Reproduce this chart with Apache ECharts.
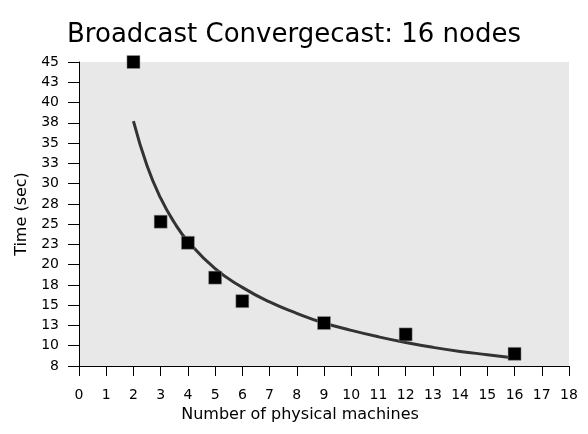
<!DOCTYPE html>
<html lang="en">
<head>
    <meta charset="UTF-8">
    <title>Broadcast Convergecast</title>
</head>
<body style="margin:0">

    <div id="echarts" style="width: 588px; height: 434px"></div>
    <script src="https://cdn.jsdelivr.net/npm/echarts@6/dist/echarts.min.js"></script>
    <script>
        // measured points
        const machines = [2, 3, 4, 5, 6, 9, 12, 16]
        const times = [45, 25.3, 22.7, 18.4, 15.5, 12.8, 11.4, 9.0]

        // fitted curve
        const fitX = [2, 2.5, 3, 3.5, 4, 5, 6, 7, 8, 9, 10, 11, 12, 13, 14, 15, 16]
        const fitY = [37.7, 32.2, 28.2, 25.2, 22.9, 19.5, 17.2, 15.4, 14.0, 12.8, 11.9, 11.1, 10.4, 9.8, 9.3, 8.9, 8.5]

        const font = 'DejaVu Sans'

        const option = {
            title: {
                text: 'Broadcast Convergecast: 16 nodes',
                left: 'center',
                top: 17,
                textStyle: { fontFamily: font, fontSize: 26, fontWeight: 'normal', color: '#000' }
            },
            grid: {
                left: 79, right: 19, top: 62, bottom: 68,
                show: true, backgroundColor: '#e8e8e8', borderWidth: 0
            },
            xAxis: {
                type: 'value',
                min: 0, max: 18, interval: 1,
                name: 'Number of physical machines',
                nameLocation: 'middle',
                nameGap: 41,
                // the title sits a bit left of the axis centre in the original
                nameTextStyle: { fontFamily: font, fontSize: 16, color: '#000', padding: [0, 48, 0, 0] },
                axisLine: { lineStyle: { color: '#000', width: 1 } },
                axisTick: { length: 10, lineStyle: { color: '#000' } },
                axisLabel: { fontFamily: font, fontSize: 14, color: '#000', margin: 22 },
                splitLine: { show: false }
            },
            yAxis: {
                type: 'value',
                min: 7.5, max: 45, interval: 2.5,
                name: 'Time (sec)',
                nameLocation: 'middle',
                nameGap: 42,
                nameTextStyle: { fontFamily: font, fontSize: 16, color: '#000' },
                axisLine: { show: true, lineStyle: { color: '#000', width: 1 } },
                axisTick: { show: true, length: 11, lineStyle: { color: '#000' } },
                axisLabel: {
                    fontFamily: font, fontSize: 14, color: '#000', margin: 20,
                    formatter: v => Math.round(v)
                },
                splitLine: { show: false }
            },
            series: [
                {
                    type: 'line',
                    data: fitX.map((x, i) => [x, fitY[i]]),
                    smooth: true,
                    showSymbol: false,
                    lineStyle: { color: '#333', width: 3 },
                    z: 2
                },
                {
                    type: 'scatter',
                    data: machines.map((x, i) => [x, times[i]]),
                    symbol: 'rect',
                    symbolSize: 13,
                    itemStyle: { color: '#000', borderColor: '#999', borderWidth: 0.5, opacity: 1 },
                    z: 3
                }
            ]
        }

        var chartDom = document.getElementById("echarts")
        var myChart = echarts.init(chartDom)
        myChart.setOption(option)
    </script>
</body>
</html>
